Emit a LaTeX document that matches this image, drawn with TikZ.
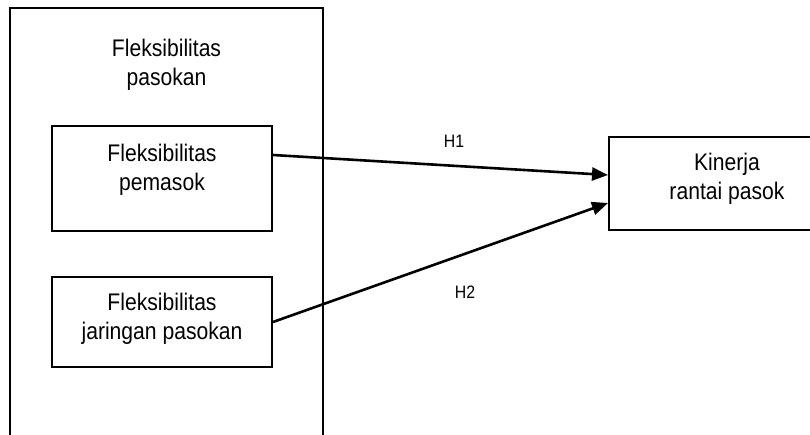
\documentclass[tikz,border=0pt]{standalone}
\usepackage{fontspec}
\setmainfont{Liberation Sans}[FakeStretch=0.88]
\usetikzlibrary{arrows.meta, positioning}
\tikzset{
  varbox/.style={draw=black, line width=2pt, align=center, inner sep=0pt,
    font=\fontsize{24}{29}\selectfont},
  hyparrow/.style={-{Triangle[length=16pt,width=13pt]}, line width=2.6pt},
  hyplabel/.style={font=\fontsize{18}{20}\selectfont}
}
\begin{document}
\begin{tikzpicture}[x=1pt,y=1pt]
  \useasboundingbox (0,0) rectangle (810,434);
  % outer block, runs past the lower edge
  \node[varbox, minimum width=313pt, minimum height=436pt] (pasokan) at (166.5,208) {};
  \node[varbox, draw=none] (pasokantitle) at (166.5,369) {Fleksibilitas\\pasokan};

  \node[varbox, minimum width=220pt, minimum height=105pt, text depth=22pt] (pemasok)
    at (162,255.5) {Fleksibilitas\\pemasok};
  \node[varbox, minimum width=220pt, minimum height=90pt, text depth=11pt] (jaringan)
    at (162,112) {Fleksibilitas\\jaringan pasokan};
  \node[varbox, minimum width=236pt, minimum height=93pt, text depth=15pt] (kinerja)
    at (727,250.5) {Kinerja\\rantai pasok};

  \draw[hyparrow] ([yshift=23.5pt]pemasok.east) -- ([yshift=8.5pt]kinerja.west);
  \draw[hyparrow] (jaringan.east) -- ([yshift=-19.5pt]kinerja.west);
  \node[hyplabel] (hone) at (454,293) {H1};
  \node[hyplabel] (htwo) at (465,142) {H2};
\end{tikzpicture}
\end{document}
